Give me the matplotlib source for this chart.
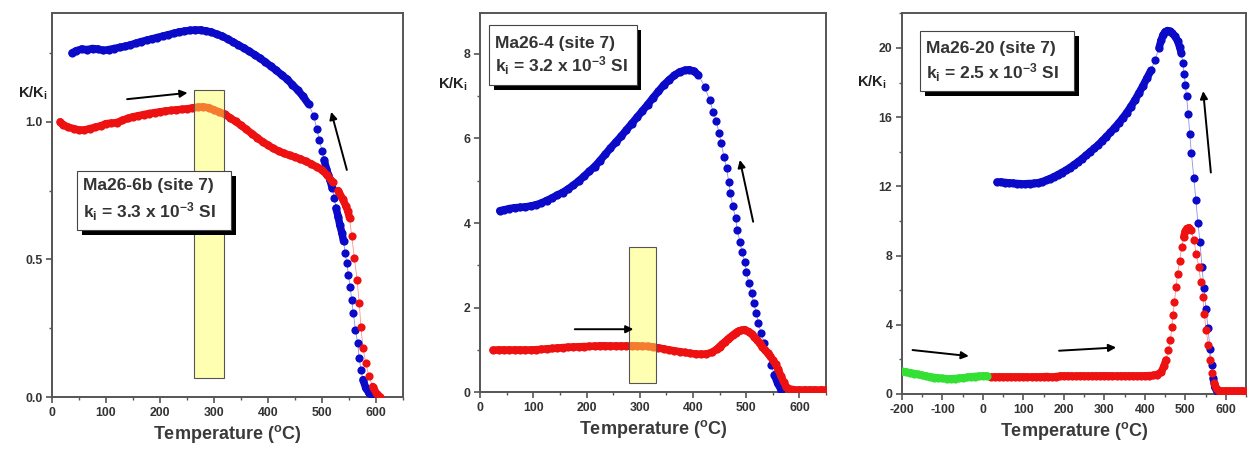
import matplotlib
matplotlib.use("Agg")
import matplotlib.pyplot as plt
import matplotlib.patches as mpatches
import matplotlib.patheffects as pe
from matplotlib.collections import LineCollection
from matplotlib.ticker import MultipleLocator
import numpy as np

plt.rcParams['font.family'] = ['Liberation Sans', 'DejaVu Sans']
plt.rcParams['font.weight'] = 'bold'
plt.rcParams['axes.unicode_minus'] = False
plt.rcParams['mathtext.fontset'] = 'custom'
plt.rcParams['mathtext.rm'] = 'Liberation Sans:bold'
plt.rcParams['mathtext.it'] = 'Liberation Sans:bold'
plt.rcParams['mathtext.bf'] = 'Liberation Sans:bold'

BLUE = "#0a0ac8"
RED = "#ee1111"
GREEN = "#33e033"

# ---- panel 1 : Ma26-6b ----
p1_blue_t = [37, 45, 55, 65, 75, 85, 95, 105, 115, 125, 135, 145, 155, 165, 175, 185,
             195, 205, 215, 225, 235, 245, 255, 265, 275, 285, 295, 305, 315, 325, 335,
             345, 355, 365, 375, 385, 395, 405, 415, 425, 435, 445, 455, 465, 475, 485,
             490, 495, 500, 504, 508, 512, 515, 519, 523, 526, 530, 533, 537, 540, 543,
             546, 549, 552, 555, 558, 562, 566, 569, 572, 576, 581, 587, 592]
p1_blue_k = [1.250, 1.258, 1.264, 1.262, 1.266, 1.264, 1.259, 1.262, 1.266, 1.270, 1.274,
             1.279, 1.285, 1.291, 1.296, 1.301, 1.306, 1.311, 1.316, 1.321, 1.326, 1.329,
             1.332, 1.333, 1.333, 1.330, 1.326, 1.318, 1.311, 1.301, 1.290, 1.279, 1.268,
             1.256, 1.244, 1.231, 1.217, 1.202, 1.187, 1.171, 1.155, 1.135, 1.115, 1.092,
             1.064, 1.020, 0.975, 0.935, 0.895, 0.861, 0.830, 0.805, 0.788, 0.758, 0.722,
             0.686, 0.655, 0.625, 0.595, 0.565, 0.522, 0.486, 0.444, 0.401, 0.353, 0.305,
             0.244, 0.196, 0.141, 0.099, 0.063, 0.033, 0.015, 0.005]
p1_red_t = [15, 20, 30, 40, 50, 60, 70, 80, 90, 100, 110, 120, 130, 140, 150, 160, 170,
            180, 190, 200, 210, 220, 230, 240, 250, 260, 270, 280, 290, 300, 310, 320,
            330, 340, 350, 360, 370, 380, 390, 400, 410, 420, 430, 440, 450, 460, 470,
            480, 490, 500, 510, 520, 530, 538, 544, 548, 551, 555, 560, 565, 569, 572,
            576, 581, 587, 594, 601, 608]
p1_red_k = [1.0, 0.99, 0.98, 0.975, 0.97, 0.97, 0.975, 0.98, 0.985, 0.993, 0.995, 0.997,
            1.005, 1.012, 1.018, 1.022, 1.026, 1.030, 1.033, 1.036, 1.039, 1.041, 1.043,
            1.045, 1.047, 1.050, 1.053, 1.054, 1.051, 1.043, 1.035, 1.027, 1.014, 1.001,
            0.987, 0.972, 0.957, 0.942, 0.927, 0.915, 0.903, 0.893, 0.885, 0.878, 0.872,
            0.865, 0.856, 0.847, 0.836, 0.825, 0.805, 0.780, 0.750, 0.720, 0.695, 0.675,
            0.650, 0.585, 0.504, 0.426, 0.341, 0.256, 0.178, 0.123, 0.075, 0.038, 0.012,
            0.0]

# ---- panel 2 : Ma26-4 ----
p2_blue_t = [37, 45, 55, 65, 75, 85, 95, 105, 115, 125, 135, 145, 155, 165, 175, 185, 195,
             205, 215, 225, 235, 245, 255, 265, 275, 285, 295, 305, 315, 325, 335, 345,
             355, 365, 375, 385, 393, 401, 410, 422, 431, 438, 444, 449, 453, 458, 463,
             467, 470, 475, 480, 483, 488, 492, 497, 500, 505, 510, 514, 519, 523, 528,
             534, 541, 547, 553, 559, 566]
p2_blue_k = [4.29, 4.31, 4.34, 4.36, 4.37, 4.38, 4.40, 4.43, 4.47, 4.53, 4.59, 4.66, 4.72,
             4.80, 4.89, 4.99, 5.10, 5.22, 5.33, 5.47, 5.62, 5.77, 5.91, 6.05, 6.20, 6.35,
             6.50, 6.65, 6.80, 6.96, 7.11, 7.26, 7.38, 7.49, 7.57, 7.61, 7.62, 7.59, 7.50,
             7.22, 6.91, 6.63, 6.40, 6.12, 5.89, 5.57, 5.30, 4.98, 4.70, 4.39, 4.11, 3.84,
             3.56, 3.32, 3.09, 2.85, 2.58, 2.34, 2.10, 1.87, 1.63, 1.39, 1.16, 0.92, 0.65,
             0.41, 0.21, 0.05]
p2_red_t = [25, 35, 45, 55, 65, 75, 85, 95, 105, 115, 125, 135, 145, 155, 165, 175, 185,
            195, 205, 215, 225, 235, 245, 255, 265, 275, 285, 295, 305, 315, 325, 335,
            345, 355, 365, 375, 385, 395, 405, 415, 425, 435, 445, 450, 455, 460, 465,
            470, 475, 480, 485, 490, 497, 505, 510, 515, 520, 525, 530, 535, 540, 545,
            550, 555, 560, 565, 570, 575, 580, 590, 600, 610, 620, 630, 640, 650]
p2_red_k = [1.0, 1.0, 1.0, 1.0, 1.0, 1.0, 1.0, 1.0, 1.005, 1.015, 1.025, 1.035, 1.045,
            1.055, 1.065, 1.07, 1.075, 1.08, 1.085, 1.09, 1.095, 1.10, 1.10, 1.10, 1.10,
            1.10, 1.10, 1.095, 1.09, 1.085, 1.07, 1.05, 1.025, 1.0, 0.98, 0.96, 0.94,
            0.92, 0.905, 0.90, 0.905, 0.94, 1.02, 1.08, 1.14, 1.19, 1.25, 1.30, 1.35,
            1.40, 1.44, 1.46, 1.48, 1.43, 1.38, 1.31, 1.24, 1.16, 1.08, 1.00, 0.93, 0.85,
            0.76, 0.66, 0.54, 0.39, 0.25, 0.13, 0.08, 0.06, 0.06, 0.06, 0.06, 0.06, 0.06,
            0.06]

# ---- panel 3 : Ma26-20 ----
p3_blue_t = [35, 45, 55, 65, 75, 85, 95, 105, 115, 125, 135, 145, 155, 165, 175, 185, 195,
             205, 215, 225, 235, 245, 255, 265, 275, 285, 295, 305, 315, 325, 335, 345,
             355, 365, 375, 385, 395, 405, 415, 425, 435, 440, 445, 450, 456, 462, 468,
             474, 481, 486, 490, 494, 497, 500, 503, 507, 511, 515, 521, 526, 531, 536,
             541, 546, 551, 556, 561, 565, 569, 573, 578]
p3_blue_k = [12.25, 12.25, 12.22, 12.20, 12.18, 12.16, 12.15, 12.15, 12.16, 12.17, 12.20,
             12.26, 12.34, 12.44, 12.55, 12.67, 12.80, 12.93, 13.08, 13.25, 13.42, 13.60,
             13.80, 14.00, 14.20, 14.40, 14.64, 14.88, 15.12, 15.38, 15.65, 15.94, 16.25,
             16.60, 16.97, 17.38, 17.80, 18.25, 18.70, 19.30, 20.00, 20.43, 20.75, 20.93,
             21.00, 20.95, 20.85, 20.68, 20.40, 20.05, 19.70, 19.10, 18.50, 17.85, 17.20,
             16.20, 15.00, 13.90, 12.50, 11.20, 9.90, 8.80, 7.35, 6.10, 4.90, 3.80, 2.60,
             1.70, 0.90, 0.40, 0.15]
p3_red_t = [20, 30, 40, 50, 60, 70, 80, 90, 100, 110, 120, 130, 140, 150, 160, 170, 180,
            190, 200, 210, 220, 230, 240, 250, 260, 270, 280, 290, 300, 310, 320, 330,
            340, 350, 360, 370, 380, 390, 400, 410, 420, 430, 440, 447, 452, 458, 463,
            467, 469, 473, 477, 481, 486, 491, 496, 500, 504, 509, 514, 521, 527, 533,
            538, 543, 547, 551, 557, 561, 566, 572, 577, 582, 590, 600, 610, 620, 630,
            640, 650]
p3_red_k = [1.0, 1.0, 1.0, 1.0, 1.0, 1.0, 1.0, 1.0, 1.0, 1.0, 1.0, 1.0, 1.0, 1.0, 1.01,
            1.01, 1.01, 1.02, 1.02, 1.02, 1.02, 1.03, 1.03, 1.03, 1.03, 1.04, 1.04, 1.04,
            1.05, 1.05, 1.05, 1.05, 1.05, 1.05, 1.05, 1.05, 1.05, 1.05, 1.05, 1.06, 1.07,
            1.12, 1.25, 1.60, 1.96, 2.54, 3.10, 3.90, 4.56, 5.30, 6.20, 6.96, 7.70, 8.50,
            9.07, 9.40, 9.56, 9.60, 9.46, 8.90, 8.10, 7.35, 6.50, 5.60, 4.65, 3.70, 2.83,
            1.96, 1.19, 0.62, 0.30, 0.18, 0.15, 0.15, 0.15, 0.15, 0.15, 0.15, 0.15]
p3_green_t = [-200, -190, -180, -170, -160, -150, -140, -130, -120, -110, -100, -90, -80,
              -70, -60, -50, -40, -30, -20, -10, 0, 10]
p3_green_k = [1.30, 1.27, 1.23, 1.18, 1.13, 1.08, 1.03, 0.99, 0.95, 0.92, 0.90, 0.88,
              0.88, 0.89, 0.91, 0.93, 0.96, 0.99, 1.01, 1.03, 1.04, 1.05]

samples = ["Ma26-6b (site 7)", "Ma26-4 (site 7)", "Ma26-20 (site 7)"]
k_initial = ["3.3", "3.2", "2.5"]

MS = 5.9  # marker diameter in points

fig = plt.figure(figsize=(12.57, 4.51), dpi=100)
ax1 = fig.add_axes([0.0414, 0.1197, 0.2792, 0.8514])
ax2 = fig.add_axes([0.3819, 0.1302, 0.2753, 0.8417])
ax3 = fig.add_axes([0.7176, 0.1264, 0.2737, 0.8441])


def curve(ax, t, k, color):
    # thin joining line + dots; where the dots are packed close they merge into a band
    ax.plot(t, k, '-', color=color, lw=0.6, alpha=0.45, zorder=2)
    ax.plot(t, k, 'o', color=color, ms=MS, mec='none', zorder=3)
    pts = ax.transData.transform(np.column_stack([t, k]))
    seg = np.stack([pts[:-1], pts[1:]], axis=1)
    gap = np.hypot(*(pts[1:] - pts[:-1]).T)
    close = seg[gap < 9.5]
    data_segs = [ax.transData.inverted().transform(s) for s in close]
    lc = LineCollection(data_segs, colors=color, linewidths=MS * 0.92,
                        capstyle='round', zorder=3)
    ax.add_collection(lc)


def style(ax, xlim, ylim, ymaj, ymin, ylab_x, ylab_y):
    ax.set_xlim(*xlim)
    ax.set_ylim(*ylim)
    ax.xaxis.set_major_locator(MultipleLocator(100))
    ax.xaxis.set_minor_locator(MultipleLocator(50))
    ax.yaxis.set_major_locator(MultipleLocator(ymaj))
    ax.yaxis.set_minor_locator(MultipleLocator(ymin))
    for s in ax.spines.values():
        s.set_color("#555555")
        s.set_linewidth(1.4)
    ax.tick_params(which='major', direction='out', length=4, width=1.2, color="#555555",
                   labelsize=8.8, pad=3, labelcolor="#333333")
    ax.tick_params(which='minor', direction='out', length=2.5, width=1, color="#555555")
    ax.set_xlabel("Temperature ($^{o}$C)", fontsize=13, fontweight='bold', color="#3a3a3a",
                  labelpad=3)
    ax.text(ylab_x, ylab_y, "K/K$_{i}$", transform=ax.transAxes, ha='right', va='center',
            fontsize=10.5, fontweight='bold', color="#222222")


def label_box(ax, x0, x1, y0, y1, name, kval, ty1, ty2):
    rect = mpatches.Rectangle((x0, y0), x1 - x0, y1 - y0, facecolor='white',
                              edgecolor='#444444', lw=0.8, zorder=6,
                              path_effects=[pe.SimplePatchShadow(offset=(3.5, -3.5),
                                                                 shadow_rgbFace='black',
                                                                 alpha=1.0),
                                            pe.Normal()])
    ax.add_patch(rect)
    dx = (x1 - x0) * 0.04
    ax.text(x0 + dx, ty1, name, fontsize=12.5, fontweight='bold', color="#333333",
            va='center', ha='left', zorder=7)
    ax.text(x0 + dx, ty2, "k$_{i}$ = " + kval + " x 10$^{-3}$ SI", fontsize=12.5,
            fontweight='bold', color="#333333", va='center', ha='left', zorder=7)


def highlight(ax, x0, x1, y0, y1):
    ax.add_patch(mpatches.Rectangle((x0, y0), x1 - x0, y1 - y0, facecolor='#ffff55',
                                    alpha=0.45, edgecolor='none', zorder=4))
    ax.add_patch(mpatches.Rectangle((x0, y0), x1 - x0, y1 - y0, facecolor='none',
                                    edgecolor='#555555', lw=0.8, zorder=4))


def arrow(ax, start, end):
    ax.annotate('', xy=end, xytext=start,
                arrowprops=dict(arrowstyle='-|>', color='black', lw=1.4,
                                mutation_scale=11, shrinkA=0, shrinkB=0), zorder=5)


# panel 1
style(ax1, (0, 650), (0, 1.395), 0.5, 0.25, -0.012, 0.79)
curve(ax1, p1_blue_t, p1_blue_k, BLUE)
curve(ax1, p1_red_t, p1_red_k, RED)
highlight(ax1, 262, 318, 0.07, 1.115)
arrow(ax1, (139, 1.082), (251, 1.105))
arrow(ax1, (546, 0.825), (517, 1.036))
label_box(ax1, 46, 332, 0.607, 0.82, samples[0], k_initial[0], 0.77, 0.672)

# panel 2
style(ax2, (0, 650), (0, 8.97), 2, 1, -0.035, 0.81)
curve(ax2, p2_blue_t, p2_blue_k, BLUE)
curve(ax2, p2_red_t, p2_red_k, RED)
highlight(ax2, 280, 331, 0.23, 3.43)
arrow(ax2, (178, 1.49), (288, 1.49))
arrow(ax2, (513, 4.03), (488, 5.49))
label_box(ax2, 17, 294, 7.26, 8.68, samples[1], k_initial[1], 8.24, 7.71)

# panel 3
style(ax3, (-200, 650), (0, 22), 4, 2, -0.044, 0.82)
curve(ax3, p3_blue_t, p3_blue_k, BLUE)
curve(ax3, p3_red_t, p3_red_k, RED)
curve(ax3, p3_green_t, p3_green_k, GREEN)
arrow(ax3, (-174, 2.54), (-35, 2.19))
arrow(ax3, (188, 2.5), (329, 2.69))
arrow(ax3, (563, 12.8), (544, 17.5))
label_box(ax3, -155, 226, 17.5, 20.96, samples[2], k_initial[2], 19.98, 18.55)

fig.savefig("out.png", dpi=100, facecolor='white')
